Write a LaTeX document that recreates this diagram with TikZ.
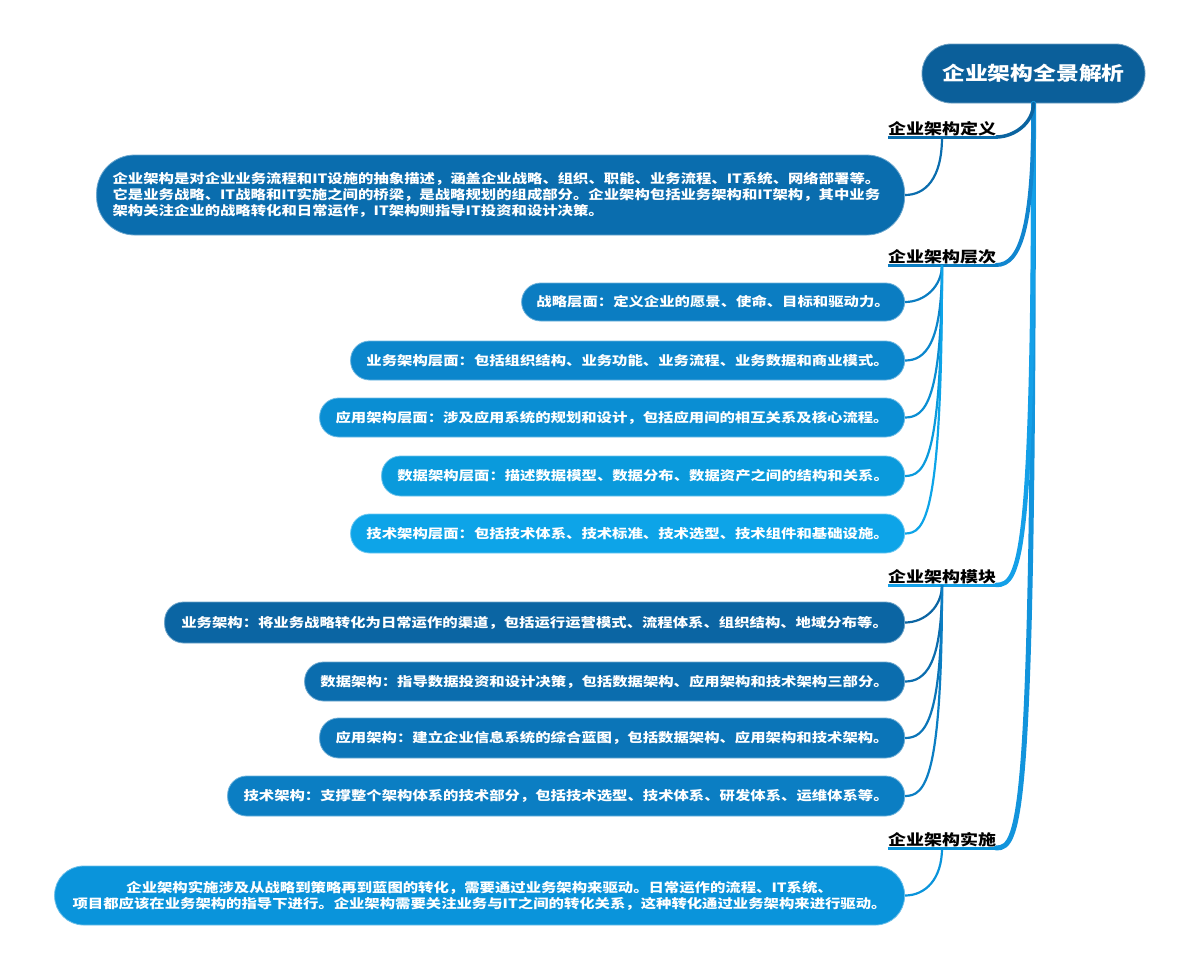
\documentclass[tikz,border=0pt]{standalone}
\usepackage{fontspec}
\setmainfont{Noto Sans CJK SC}[FakeStretch=1.2]
\usetikzlibrary{calc}
\definecolor{cRoot}{HTML}{0B5F9A}
\definecolor{cDef}{HTML}{0A6DAE}
\definecolor{cL1}{HTML}{0B7DC2}
\definecolor{cL2}{HTML}{0B86CC}
\definecolor{cL3}{HTML}{0A8ED3}
\definecolor{cL4}{HTML}{0A9ADC}
\definecolor{cL5}{HTML}{0DA4E8}
\definecolor{cM1}{HTML}{0B65A3}
\definecolor{cM2}{HTML}{0B6DAE}
\definecolor{cM3}{HTML}{0B75B8}
\definecolor{cM4}{HTML}{0B7EC3}
\definecolor{cImp}{HTML}{0A94DB}
\definecolor{cT1}{HTML}{0B64A0}
\definecolor{cT2}{HTML}{1186CF}
\definecolor{cT3}{HTML}{14A0E8}
\definecolor{cT4}{HTML}{1294DC}
\begin{document}
\begin{tikzpicture}[x=1pt,y=-1pt,
  pill/.style={fill=#1, draw=#1!60!white, line width=0.8pt, text=white,
    font=\bfseries\fontsize{12.8}{16}\selectfont, inner sep=0pt, anchor=east, align=center,
    rounded corners=19pt, minimum height=39pt},
  cat/.style={font=\bfseries\fontsize{15}{18}\selectfont, text=black, inner xsep=0pt, inner ysep=1pt, anchor=south},
  uline/.style={line width=3pt, draw=#1},
  trunk/.style={line width=3.5pt, draw=#1, line cap=round},
  conn/.style={line width=2.2pt, draw=#1}]
\useasboundingbox (0,0) rectangle (1200,970);

% root
\node[fill=cRoot, draw=cRoot!60!white, line width=0.8pt, rounded corners=29pt, minimum width=223pt, minimum height=59pt,
  text=white, font=\bfseries\fontsize{19}{22}\selectfont, inner sep=0pt] (root) at (1033.5,73.5) {企业架构全景解析};

% categories
\node[cat] (c1) at (942,137) {企业架构定义};
\node[cat] (c2) at (942,265) {企业架构层次};
\node[cat] (c3) at (942,585) {企业架构模块};
\node[cat] (c4) at (942,848) {企业架构实施};

% trunk branches
\draw[trunk=cT4, line width=5pt] (root.south) .. controls ($(root.south |- c4.south)+(0,-30)$) and ($(c4.south east)+(25,0)$) .. (c4.south east);
\draw[trunk=cT3, line width=4.5pt] (root.south) .. controls ($(root.south |- c3.south)+(0,-30)$) and ($(c3.south east)+(25,0)$) .. (c3.south east);
\draw[trunk=cT2, line width=4pt] (root.south) .. controls ($(root.south |- c2.south)+(0,-40)$) and ($(c2.south east)+(25,0)$) .. (c2.south east);
\draw[trunk=cT1] (root.south) .. controls ($(root.south |- c1.south)+(0,-14)$) and ($(c1.south east)+(18,0)$) .. (c1.south east);

\draw[uline=cDef] (c1.south west) -- ($(c1.south east)+(2,0)$);
\draw[uline=cL1] (c2.south west) -- ($(c2.south east)+(2,0)$);
\draw[uline=cT3] (c3.south west) -- ($(c3.south east)+(2,0)$);
\draw[uline=cImp] (c4.south west) -- ($(c4.south east)+(2,0)$);

% definition
\node[pill=cDef, rounded corners=38pt, text width=776pt, inner xsep=16pt, minimum height=80pt, align=left] (d1) at (905,195)
{企业架构是对企业业务流程和IT设施的抽象描述，涵盖企业战略、组织、职能、业务流程、IT系统、网络部署等。\\
它是业务战略、IT战略和IT实施之间的桥梁，是战略规划的组成部分。企业架构包括业务架构和IT架构，其中业务\\
架构关注企业的战略转化和日常运作，IT架构则指导IT投资和设计决策。};

% levels
\node[pill=cL1, minimum width=383pt, minimum height=38pt] (l1) at (905,302) {战略层面：定义企业的愿景、使命、目标和驱动力。};
\node[pill=cL2, minimum width=554pt] (l2) at (905,360.5) {业务架构层面：包括组织结构、业务功能、业务流程、业务数据和商业模式。};
\node[pill=cL3, minimum width=585pt] (l3) at (905,417.5) {应用架构层面：涉及应用系统的规划和设计，包括应用间的相互关系及核心流程。};
\node[pill=cL4, minimum width=523pt, minimum height=40pt] (l4) at (905,476) {数据架构层面：描述数据模型、数据分布、数据资产之间的结构和关系。};
\node[pill=cL5, minimum width=554pt] (l5) at (905,533.5) {技术架构层面：包括技术体系、技术标准、技术选型、技术组件和基础设施。};

% modules
\node[pill=cM1, minimum width=740pt, minimum height=41pt] (m1) at (905,622.5) {业务架构：将业务战略转化为日常运作的渠道，包括运行运营模式、流程体系、组织结构、地域分布等。};
\node[pill=cM2, minimum width=600pt] (m2) at (905,681.5) {数据架构：指导数据投资和设计决策，包括数据架构、应用架构和技术架构三部分。};
\node[pill=cM3, minimum width=585pt, minimum height=40pt] (m3) at (905,738) {应用架构：建立企业信息系统的综合蓝图，包括数据架构、应用架构和技术架构。};
\node[pill=cM4, minimum width=677pt, minimum height=40pt] (m4) at (905,796) {技术架构：支撑整个架构体系的技术部分，包括技术选型、技术体系、研发体系、运维体系等。};

% implementation
\node[pill=cImp, rounded corners=29pt, text width=834pt, inner xsep=8pt, minimum height=59pt] (i1) at (905,895.5)
{企业架构实施涉及从战略到策略再到蓝图的转化，需要通过业务架构来驱动。日常运作的流程、IT系统、\\
项目都应该在业务架构的指导下进行。企业架构需要关注业务与IT之间的转化关系，这种转化通过业务架构来进行驱动。};

% child connectors
\foreach \p/\t/\col in {c1/d1/cDef, c2/l1/cL1, c2/l2/cL2, c2/l3/cL3, c2/l4/cL4, c2/l5/cL5,
                        c3/m1/cM1, c3/m2/cM2, c3/m3/cM3, c3/m4/cM4, c4/i1/cImp}
  \draw[conn=\col] (\p.south) .. controls ($(\p.south |- \t.east)+(0,-16)$) and ($(\t.east)+(20,0)$) .. (\t.east);
\end{tikzpicture}
\end{document}
